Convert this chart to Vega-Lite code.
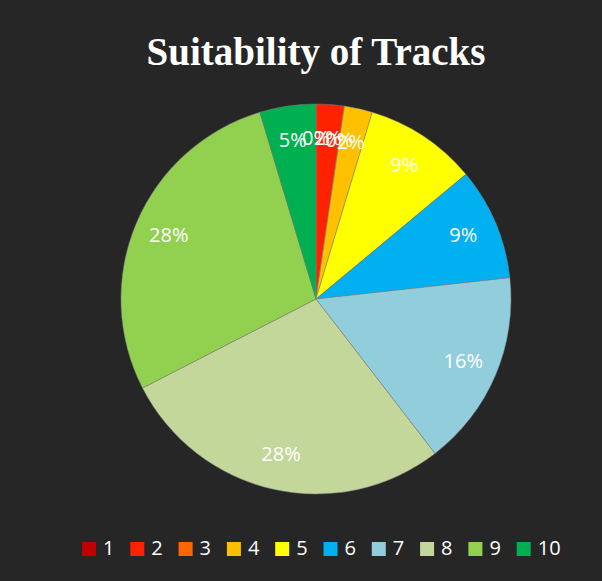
{
  "$schema": "https://vega.github.io/schema/vega-lite/v6.json",
  "autosize": "none",
  "width": 390,
  "height": 390,
  "padding": {"left": 121, "top": 104, "right": 91, "bottom": 87},
  "background": "#262626",
  "title": {
    "text": "Suitability of Tracks",
    "font": "Liberation Serif",
    "fontSize": 39,
    "fontWeight": "bold",
    "color": "#ffffff",
    "anchor": "middle",
    "baseline": "alphabetic",
    "offset": -1
  },
  "data": {
    "values": [
      {"track": 1, "share": 0},
      {"track": 2, "share": 0.0233},
      {"track": 3, "share": 0},
      {"track": 4, "share": 0.0233},
      {"track": 5, "share": 0.093},
      {"track": 6, "share": 0.093},
      {"track": 7, "share": 0.163},
      {"track": 8, "share": 0.279},
      {"track": 9, "share": 0.279},
      {"track": 10, "share": 0.0465}
    ]
  },
  "encoding": {
    "theta": {"field": "share", "type": "quantitative", "stack": true},
    "order": {"field": "track", "type": "quantitative"}
  },
  "layer": [
    {
      "mark": {"type": "arc", "outerRadius": 195, "stroke": "#7f7f7f", "strokeWidth": 0.5},
      "encoding": {
        "color": {
          "field": "track",
          "type": "ordinal",
          "scale": {
            "domain": [1, 2, 3, 4, 5, 6, 7, 8, 9, 10],
            "range": ["#C00000", "#FF2200", "#FF6600", "#FFC000", "#FFFF00", "#00B0F0", "#92CDDC", "#C4D79B", "#92D050", "#00B050"]
          },
          "legend": {
            "title": null,
            "orient": "none",
            "direction": "horizontal",
            "columns": 10,
            "gridAlign": "all",
            "legendX": -42,
            "legendY": 435,
            "columnPadding": 1.3,
            "labelOffset": 4,
            "symbolType": "square",
            "symbolSize": 196,
            "symbolStrokeWidth": 0,
            "symbolOpacity": 1,
            "labelFont": "Open Sans",
            "labelFontSize": 20,
            "labelColor": "#ffffff"
          }
        }
      }
    },
    {
      "mark": {"type": "text", "radius": 160, "font": "Open Sans", "fontSize": 20, "fill": "#ffffff"},
      "encoding": {
        "text": {"field": "share", "type": "quantitative", "format": ".0%"}
      }
    }
  ]
}
